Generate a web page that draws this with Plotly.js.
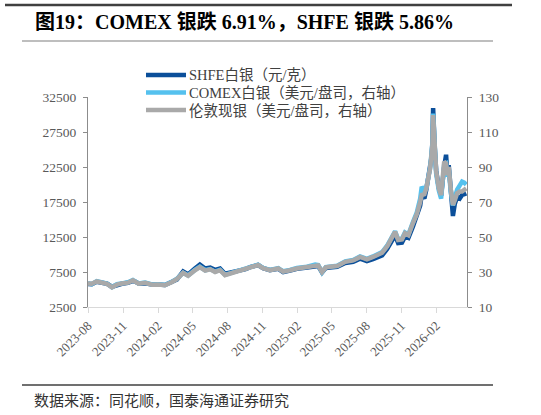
<!DOCTYPE html>
<html>
<head>
<meta charset="utf-8">
<script src="https://cdn.plot.ly/plotly-3.0.1.min.js"></script>
<style>
html,body{margin:0;padding:0;background:#fff;}
#chart{width:541px;height:415px;}
</style>
</head>
<body>
<div id="chart"></div>
<script>
// ---- data ----
var dates = [
 '2023-08-01','2023-08-11','2023-08-24','2023-09-01','2023-09-08','2023-09-20','2023-10-03','2023-10-10','2023-10-16','2023-10-29',
 '2023-11-14','2023-11-27','2023-12-04','2023-12-12','2023-12-29','2024-01-16','2024-02-01','2024-02-19','2024-03-09','2024-03-22',
 '2024-04-07','2024-04-20','2024-05-08','2024-05-21','2024-06-04','2024-06-17','2024-06-30','2024-07-13','2024-07-26','2024-08-08',
 '2024-08-21','2024-09-04','2024-09-18','2024-09-30','2024-10-21','2024-11-03','2024-11-21','2024-12-13','2024-12-26','2025-01-13',
 '2025-01-31','2025-02-27','2025-03-20','2025-03-28','2025-04-07','2025-04-17','2025-04-28','2025-05-17','2025-06-07','2025-06-28',
 '2025-07-16','2025-08-03','2025-08-19','2025-09-12','2025-09-25','2025-10-03','2025-10-16','2025-10-24','2025-11-03','2025-11-11',
 '2025-11-20','2025-12-02','2025-12-12','2025-12-21','2025-12-25','2026-01-01','2026-01-06','2026-01-16','2026-01-20','2026-01-22',
 '2026-01-24','2026-01-28','2026-02-01','2026-02-08','2026-02-14','2026-02-22','2026-02-27','2026-03-02','2026-03-06','2026-03-11',
 '2026-03-17','2026-03-22','2026-03-28','2026-04-04','2026-04-10','2026-04-16','2026-04-21'
];
var shfe = [
 5800,5750,6100,6050,5900,5825,5400,5525,5700,5825,
 5950,6225,6100,5850,5900,5700,5700,5650,6100,6450,
 7575,7150,8000,8550,8000,8125,7800,8000,7250,7400,
 7650,7725,7900,8200,8500,8050,7750,7950,7500,7700,
 7950,8125,8400,8350,7450,8075,8150,8250,8800,8950,
 9400,9050,9325,9875,10800,11625,12750,11625,11700,12550,
 12375,14000,15375,17000,18500,18000,19250,22375,24000,26000,
 30925,25500,22000,19500,18375,22500,24250,21750,22750,19500,
 15500,17250,18250,18000,18500,18625,18750
];
var comex = [
 23.6,23.1,24.8,24.4,23.6,23.4,21.3,22.2,23.0,23.5,
 24.1,25.4,24.6,23.5,24.0,22.9,23.0,22.6,24.5,26.2,
 29.6,28.0,31.2,33.0,31.0,31.7,30.2,31.2,28.4,29.2,
 30.5,31.0,31.8,33.0,34.2,32.4,31.2,32.2,30.4,31.2,
 32.3,33.0,34.3,34.0,29.8,32.8,33.2,33.6,36.1,36.9,
 38.9,37.5,38.9,41.4,45.0,48.5,53.3,48.8,49.0,52.6,
 51.4,58.5,64.0,72.0,78.7,76.5,78.0,89.5,97.0,103.0,
 120.5,99.0,86.0,76.5,72.0,91.5,92.0,84.5,89.0,76.5,
 68.0,72.5,77.0,79.5,81.6,81.0,80.0
];
var london = [
 23.4,23.3,24.6,24.2,23.5,23.2,21.2,22.0,22.8,23.4,
 23.9,25.2,24.5,23.3,23.8,22.7,22.8,22.4,24.3,26.0,
 29.5,27.8,31.0,32.8,30.8,31.5,30.0,31.0,28.2,29.0,
 30.3,30.8,31.6,32.8,34.0,32.2,31.0,32.0,30.2,31.0,
 32.0,32.8,34.0,33.8,30.0,32.6,33.0,33.4,35.8,36.6,
 38.6,37.2,38.6,41.0,44.6,48.0,53.0,48.3,48.6,52.2,
 51.0,58.0,63.0,70.0,74.0,74.5,77.8,89.0,96.0,102.0,
 119.7,98.0,87.3,77.8,74.0,93.0,92.0,85.4,90.0,77.8,
 68.3,71.0,75.0,76.0,76.0,77.0,77.8
];
var xTickVals = ['2023-08-01','2023-11-01','2024-02-01','2024-05-01','2024-08-01','2024-11-01','2025-02-01','2025-05-01','2025-08-01','2025-11-01','2026-02-01'];
var xTickText = ['2023-08','2023-11','2024-02','2024-05','2024-08','2024-11','2025-02','2025-05','2025-08','2025-11','2026-02'];
var yLeftTicks = [2500,7500,12500,17500,22500,27500,32500];
var yRightTicks = [10,30,50,70,90,110,130];
var seriesNames = ['SHFE白银（元/克）','COMEX白银（美元/盘司，右轴）','伦敦现银（美元/盘司，右轴）'];
var seriesColors = ['#0B4F9A', '#55C1EE', '#A9A9A9'];
var titleText = '图19：COMEX 银跌 6.91%，SHFE 银跌 5.86%';
var sourceText = '数据来源：同花顺，国泰海通证券研究';

var FONT = '"Liberation Serif", "Times New Roman", "Noto Sans CJK SC", serif';
var TICKC = '#595959';

// pixel helpers for paper coordinates (plot area: x 88..467, y 97..307)
function px(x) { return (x - 88) / 379; }
function py(y) { return (307 - y) / 210; }

var traces = [
 {x: dates, y: shfe, name: seriesNames[0], type: 'scatter', mode: 'lines', yaxis: 'y',
  line: {color: seriesColors[0], width: 4.5}},
 {x: dates, y: comex, name: seriesNames[1], type: 'scatter', mode: 'lines', yaxis: 'y2',
  line: {color: seriesColors[1], width: 4.5}},
 {x: dates, y: london, name: seriesNames[2], type: 'scatter', mode: 'lines', yaxis: 'y2',
  line: {color: seriesColors[2], width: 4.5}}
];

var shapes = [
 {type: 'line', xref: 'paper', yref: 'paper', x0: px(5), x1: px(512), y0: py(5), y1: py(5),
  line: {color: '#404040', width: 2.5}},
 {type: 'line', xref: 'paper', yref: 'paper', x0: px(22), x1: px(493), y0: py(41), y1: py(41),
  line: {color: '#7F7F7F', width: 1.2}},
 {type: 'line', xref: 'paper', yref: 'paper', x0: px(22), x1: px(493), y0: py(385), y1: py(385),
  line: {color: '#404040', width: 1.5}}
];
var annotations = [
 {text: '<b>' + titleText + '</b>', xref: 'paper', yref: 'paper', x: px(33), y: py(22),
  xanchor: 'left', yanchor: 'middle', showarrow: false, font: {family: FONT, size: 20, color: '#000000'}},
 {text: sourceText, xref: 'paper', yref: 'paper', x: px(32), y: py(401),
  xanchor: 'left', yanchor: 'middle', showarrow: false, font: {family: FONT, size: 15, color: '#333333'}}
];
// legend (drawn as key lines + labels)
var legendRows = [75, 92.5, 110];
for (var i = 0; i < 3; i++) {
 shapes.push({type: 'line', xref: 'paper', yref: 'paper', x0: px(146), x1: px(186),
  y0: py(legendRows[i]), y1: py(legendRows[i]), line: {color: seriesColors[i], width: 4.5}});
 annotations.push({text: seriesNames[i], xref: 'paper', yref: 'paper', x: px(187), y: py(legendRows[i]),
  xanchor: 'left', yanchor: 'middle', showarrow: false, font: {family: FONT, size: 14.5, color: '#404040'}});
}

var layout = {
 width: 541, height: 415,
 margin: {l: 88, r: 74, t: 97, b: 108, pad: 0},
 paper_bgcolor: '#ffffff', plot_bgcolor: '#ffffff',
 font: {family: FONT, color: TICKC, size: 13},
 showlegend: false,
 xaxis: {type: 'date', range: ['2023-08-01', '2026-04-23'], tickvals: xTickVals, ticktext: xTickText,
  tickangle: -45, showline: true, linecolor: '#D9D9D9', linewidth: 1, ticks: 'outside', ticklen: 5,
  tickcolor: '#D9D9D9', showgrid: false, zeroline: false, tickfont: {family: FONT, size: 13, color: TICKC}},
 yaxis: {range: [2500, 32500], tickvals: yLeftTicks, tickformat: 'd', showline: true, linecolor: '#8C8C8C', linewidth: 1,
  ticks: 'outside', ticklen: 4, tickcolor: '#8C8C8C', showgrid: false, zeroline: false, ticklabelstandoff: 4,
  tickfont: {family: FONT, size: 13.5, color: TICKC}},
 yaxis2: {range: [10, 130], tickvals: yRightTicks, overlaying: 'y', side: 'right', showline: true,
  linecolor: '#8C8C8C', linewidth: 1, ticks: 'outside', ticklen: 4, tickcolor: '#8C8C8C', showgrid: false,
  zeroline: false, ticklabelstandoff: 4, tickfont: {family: FONT, size: 13.5, color: TICKC}},
 shapes: shapes,
 annotations: annotations
};

Plotly.newPlot('chart', traces, layout, {staticPlot: true, displayModeBar: false});
</script>
</body>
</html>
